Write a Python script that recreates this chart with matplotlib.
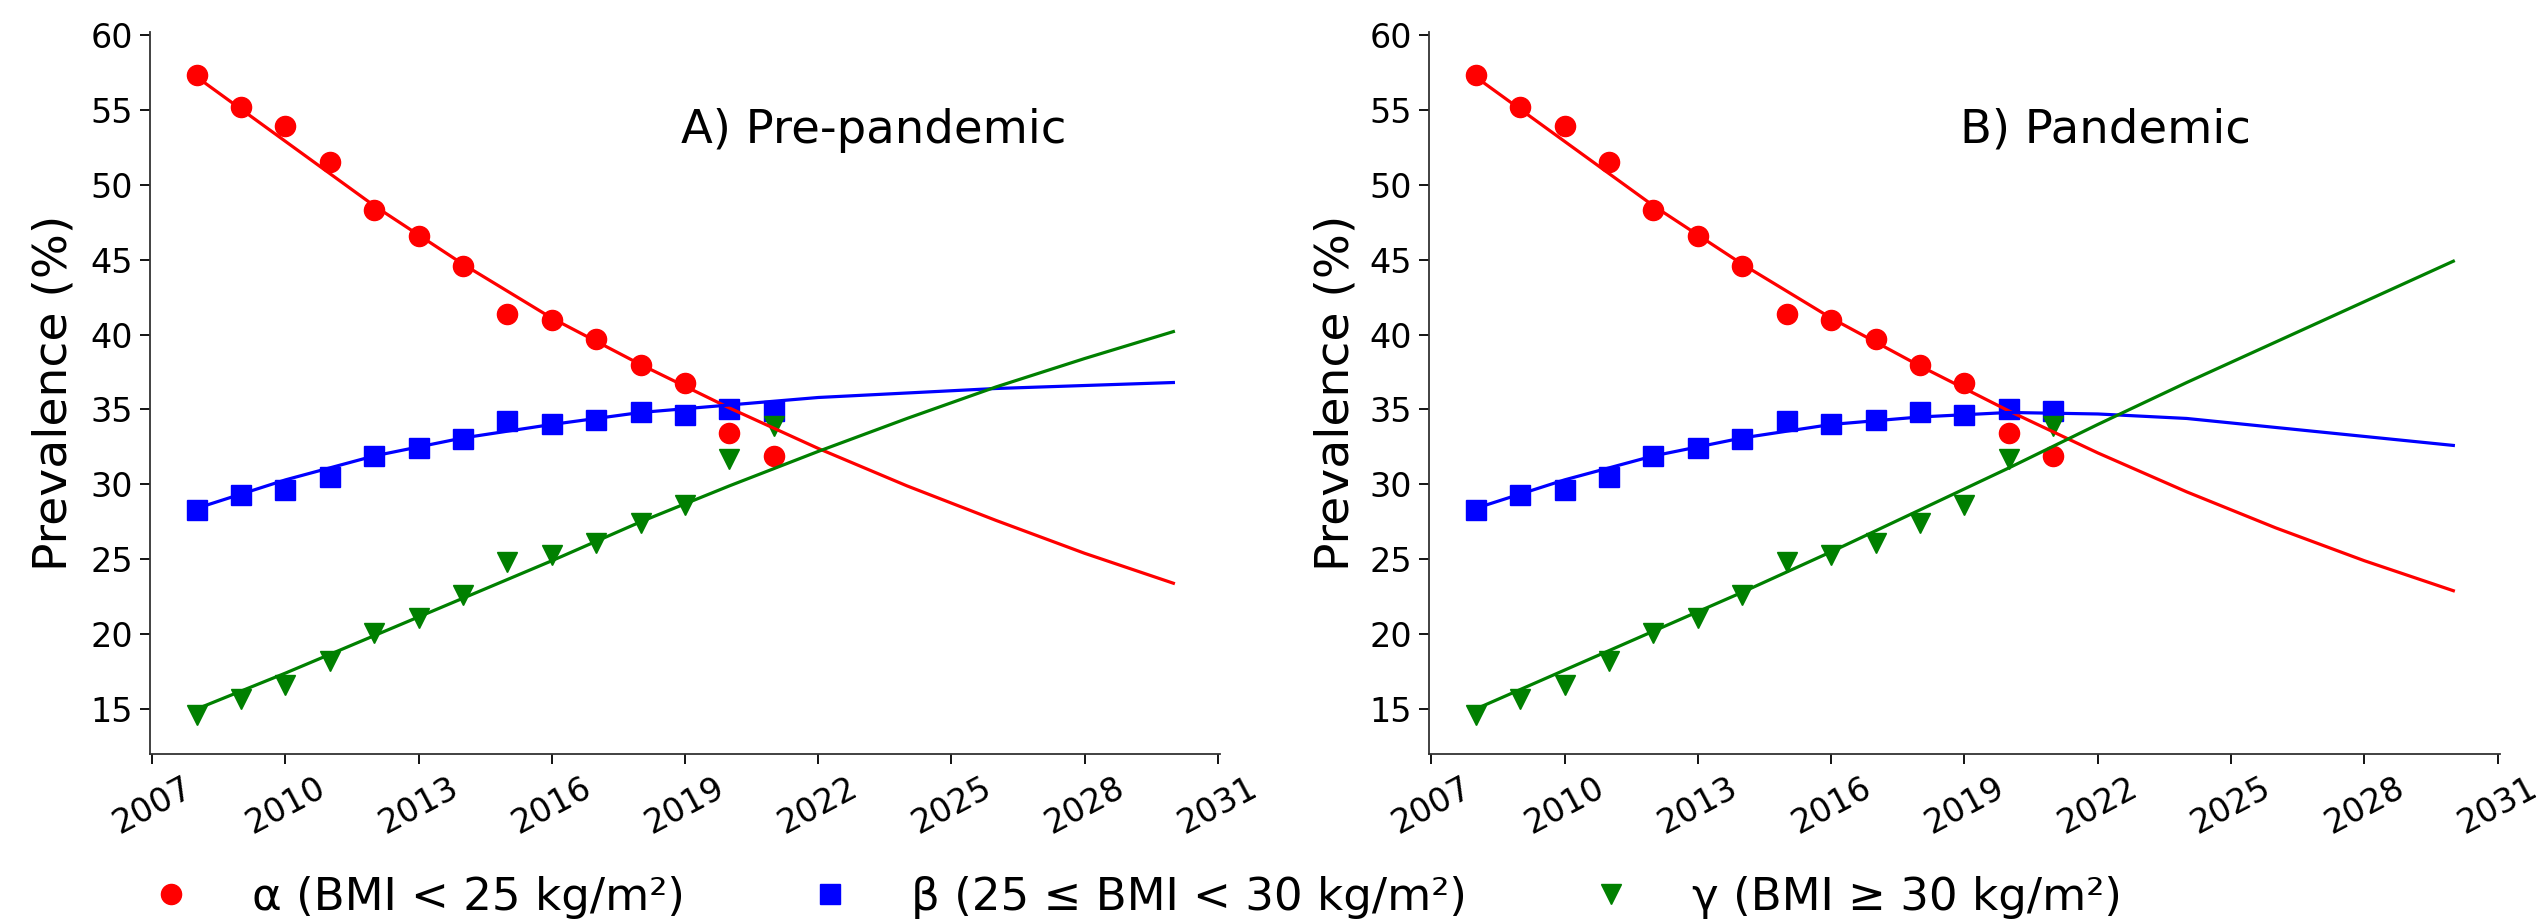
import numpy as np
import matplotlib.pyplot as plt

# survey years and observed prevalence (%)
years = np.arange(2008, 2022)
alpha = [57.3, 55.2, 53.9, 51.5, 48.3, 46.6, 44.6, 41.4, 41.0, 39.7, 38.0, 36.8, 33.4, 31.9]
beta = [28.3, 29.3, 29.6, 30.5, 31.9, 32.4, 33.0, 34.2, 34.0, 34.3, 34.8, 34.6, 35.0, 34.9]
gamma = [14.6, 15.7, 16.6, 18.2, 20.1, 21.1, 22.6, 24.8, 25.3, 26.1, 27.4, 28.6, 31.7, 33.9]

# fitted / projected curves
fit_years = np.arange(2008, 2031, 2)
pre_alpha = [57.2, 52.9, 48.6, 44.7, 41.1, 38.0, 35.1, 32.4, 29.9, 27.6, 25.4, 23.4]
pre_beta = [28.4, 30.3, 31.9, 33.1, 34.0, 34.8, 35.3, 35.8, 36.1, 36.4, 36.6, 36.8]
pre_gamma = [15.0, 17.4, 19.9, 22.4, 24.9, 27.5, 29.9, 32.2, 34.4, 36.5, 38.4, 40.2]
pan_alpha = [57.2, 52.9, 48.6, 44.7, 41.1, 37.9, 34.9, 32.1, 29.5, 27.1, 24.9, 22.9]
pan_beta = [28.4, 30.3, 31.9, 33.1, 34.0, 34.5, 34.8, 34.7, 34.4, 33.8, 33.2, 32.6]
pan_gamma = [15.0, 17.6, 20.2, 22.8, 25.5, 28.3, 31.1, 34.0, 36.8, 39.5, 42.2, 44.9]

labels = ['α (BMI < 25 kg/m²)', 'β (25 ≤ BMI < 30 kg/m²)', 'γ (BMI ≥ 30 kg/m²)']
titles = ['A) Pre-pandemic', 'B) Pandemic']

fig = plt.figure(figsize=(25.44, 9.22), dpi=100)
ax1 = fig.add_axes([150/2544, 1-754/922, 1070/2544, 722/922])
ax2 = fig.add_axes([1429/2544, 1-754/922, 1071/2544, 722/922])

fits = [(pre_alpha, pre_beta, pre_gamma), (pan_alpha, pan_beta, pan_gamma)]

for ax, title, (fa, fb, fg) in zip([ax1, ax2], titles, fits):
    ax.plot(years, alpha, 'o', color='red', ms=14.5, label=labels[0])
    ax.plot(years, beta, 's', color='blue', ms=14, label=labels[1])
    ax.plot(years, gamma, 'v', color='green', ms=14.5, label=labels[2])
    ax.plot(fit_years, fa, '-', color='red', lw=2.3)
    ax.plot(fit_years, fb, '-', color='blue', lw=2.3)
    ax.plot(fit_years, fg, '-', color='green', lw=2.3)

    ax.set_xlim(2006.95, 2031.05)
    ax.set_ylim(12, 60.2)
    ax.set_xticks(range(2007, 2032, 3))
    ax.set_yticks(range(15, 61, 5))
    ax.tick_params(labelsize=24, length=7, width=1.3, pad=5)
    for lab in ax.get_xticklabels():
        lab.set_rotation(28)
    for s in ['top', 'right']:
        ax.spines[s].set_visible(False)
    for s in ['left', 'bottom']:
        ax.spines[s].set_linewidth(1.3)
        ax.spines[s].set_color('#333333')

    ax.text(2018.9, 52.8, title, fontsize=33.5)
    ax.set_ylabel('Prevalence (%)', fontsize=34)

ax1.yaxis.set_label_coords(-0.069, 0.5)
ax2.yaxis.set_label_coords(-0.066, 0.5)

h, l = ax1.get_legend_handles_labels()
fig.legend(h, l, ncol=3, loc='center', bbox_to_anchor=(1124/2544, 1-897/922),
           frameon=False, fontsize=32.5, columnspacing=2.2, handletextpad=0.8)

fig.savefig('out.png', dpi=100)
